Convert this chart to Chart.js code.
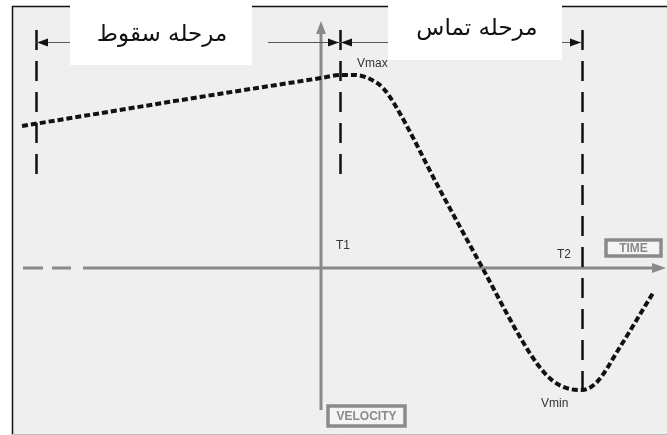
<!DOCTYPE html>
<html>
<head>
<meta charset="utf-8">
<script src="https://cdn.jsdelivr.net/npm/chart.js@4.4.0/dist/chart.umd.min.js"></script>
<style>
html,body{margin:0;padding:0;background:#fff;}
#wrap{width:667px;height:435px;position:relative;}
</style>
</head>
<body>
<div id="wrap"><canvas id="c" width="667" height="435"></canvas></div>
<script>
// ---- data (time, velocity in arbitrary units) ----
const curveTime = [-29.9, -12.1, 0, 1.9, 3.4, 4.9, 6.2, 7.4, 11.9, 16.2, 19.9, 21.7, 23.2, 24.9, 26.1, 27.6, 29.9, 33.2];
const curveVelocity = [14.2, 17.1, 19.0, 19.3, 19.3, 18.9, 18.0, 16.3, 7.8, -0.1, -6.9, -9.7, -11.3, -12.1, -12.2, -11.4, -7.9, -2.5];
const phaseBoundaries = [-28.5, 1.9, 26.1];   // start of fall, T1, T2
const phaseLabels = ['مرحله سقوط', 'مرحله تماس'];
const timeMarkerLabels = ['T1', 'T2'];
const extremaLabels = ['Vmax', 'Vmin'];
const axisTitles = ['TIME', 'VELOCITY'];

const points = curveTime.map((t, i) => ({x: t, y: curveVelocity[i]}));

function arrowHead(ctx, x, y, dir, len, half, color) {
  ctx.save();
  ctx.fillStyle = color;
  ctx.beginPath();
  if (dir === 'right') { ctx.moveTo(x, y); ctx.lineTo(x - len, y - half); ctx.lineTo(x - len, y + half); }
  else if (dir === 'left') { ctx.moveTo(x, y); ctx.lineTo(x + len, y - half); ctx.lineTo(x + len, y + half); }
  else if (dir === 'up') { ctx.moveTo(x, y); ctx.lineTo(x - half, y + len); ctx.lineTo(x + half, y + len); }
  ctx.closePath();
  ctx.fill();
  ctx.restore();
}

const diagram = {
  id: 'diagram',
  beforeDraw(chart) {
    const ctx = chart.ctx;
    ctx.save();
    ctx.fillStyle = '#ffffff';
    ctx.fillRect(0, 0, chart.width, chart.height);
    ctx.fillStyle = '#efefef';
    ctx.fillRect(12, 6, chart.width - 12, 428);
    ctx.strokeStyle = '#111';
    ctx.lineWidth = 1.5;
    ctx.beginPath();
    ctx.moveTo(12.5, 6); ctx.lineTo(12.5, 435);
    ctx.moveTo(12, 6.5); ctx.lineTo(chart.width, 6.5);
    ctx.stroke();
    ctx.strokeStyle = '#bbb';
    ctx.lineWidth = 1;
    ctx.beginPath();
    ctx.moveTo(12, 434.5); ctx.lineTo(chart.width, 434.5);
    ctx.stroke();
    ctx.restore();
  },
  beforeDatasetsDraw(chart) {
    const ctx = chart.ctx;
    const xs = chart.scales.x, ys = chart.scales.y;
    const x0 = xs.getPixelForValue(0), y0 = ys.getPixelForValue(0);
    const bx = phaseBoundaries.map(v => xs.getPixelForValue(v));
    const axisGray = '#8a8a8a';
    ctx.save();
    // time axis
    ctx.strokeStyle = axisGray;
    ctx.lineWidth = 3;
    ctx.beginPath();
    ctx.moveTo(83, y0); ctx.lineTo(654, y0);
    ctx.moveTo(23, y0); ctx.lineTo(43, y0);
    ctx.moveTo(52, y0); ctx.lineTo(71, y0);
    ctx.stroke();
    arrowHead(ctx, 666, y0, 'right', 14, 5, axisGray);
    // velocity axis
    ctx.beginPath();
    ctx.moveTo(x0, 410); ctx.lineTo(x0, 32);
    ctx.stroke();
    arrowHead(ctx, x0, 21, 'up', 13, 5, axisGray);

    // dashed vertical phase lines
    ctx.strokeStyle = '#111';
    ctx.lineWidth = 2.5;
    ctx.setLineDash([20, 11]);
    const ends = [175, 175, 400];
    bx.forEach((px, i) => {
      ctx.beginPath();
      ctx.moveTo(Math.round(px) + 0.5, 30);
      ctx.lineTo(Math.round(px) + 0.5, ends[i]);
      ctx.stroke();
    });
    ctx.setLineDash([]);

    // dimension lines
    const dy = 42.5;
    ctx.strokeStyle = '#555';
    ctx.lineWidth = 1.2;
    ctx.beginPath();
    ctx.moveTo(bx[0], dy); ctx.lineTo(70, dy);
    ctx.moveTo(268, dy); ctx.lineTo(bx[1], dy);
    ctx.moveTo(bx[1], dy); ctx.lineTo(388, dy);
    ctx.moveTo(562, dy); ctx.lineTo(bx[2], dy);
    ctx.stroke();
    arrowHead(ctx, bx[0] + 1, dy, 'left', 11, 4, '#111');
    arrowHead(ctx, bx[1] - 1, dy, 'right', 11, 4, '#111');
    arrowHead(ctx, bx[1] + 1, dy, 'left', 11, 4, '#111');
    arrowHead(ctx, bx[2] - 1, dy, 'right', 11, 4, '#111');

    // white title boxes
    ctx.fillStyle = '#ffffff';
    ctx.fillRect(70, 0, 182, 65);
    ctx.fillRect(388, 0, 174, 60);
    ctx.fillStyle = '#111';
    ctx.font = '23px "DejaVu Sans"';
    ctx.textAlign = 'center';
    ctx.textBaseline = 'middle';
    ctx.direction = 'rtl';
    ctx.fillText(phaseLabels[0], 162, 35);
    ctx.fillText(phaseLabels[1], 477, 29);
    ctx.direction = 'ltr';

    // small labels
    ctx.fillStyle = '#333';
    ctx.font = '12px "Liberation Sans"';
    ctx.textAlign = 'left';
    ctx.fillText(timeMarkerLabels[0], bx[1] - 4, 246);
    ctx.fillText(timeMarkerLabels[1], bx[2] - 25, 255);
    ctx.fillText(extremaLabels[0], bx[1] + 17, 64);
    ctx.fillText(extremaLabels[1], bx[2] - 41, 404);

    // axis title boxes
    ctx.strokeStyle = axisGray;
    ctx.lineWidth = 3.5;
    ctx.fillStyle = '#f4f4f4';
    ctx.fillRect(606, 240, 55, 16);
    ctx.strokeRect(606, 240, 55, 16);
    ctx.fillRect(328, 406, 77, 20);
    ctx.strokeRect(328, 406, 77, 20);
    ctx.fillStyle = axisGray;
    ctx.font = 'bold 12px "Liberation Sans"';
    ctx.textAlign = 'center';
    ctx.fillText(axisTitles[0], 633.5, 248.5);
    ctx.fillText(axisTitles[1], 366.5, 416.5);
    ctx.restore();
  }
};

new Chart(document.getElementById('c'), {
  type: 'line',
  data: {
    datasets: [{
      data: points,
      borderColor: '#111',
      borderWidth: 4,
      borderDash: [6, 3],
      borderCapStyle: 'butt',
      cubicInterpolationMode: 'monotone',
      pointRadius: 0,
      fill: false
    }]
  },
  options: {
    responsive: false,
    animation: false,
    devicePixelRatio: 1,
    layout: {padding: 0},
    plugins: {legend: {display: false}, tooltip: {enabled: false}},
    scales: {
      x: {type: 'linear', min: -32.1, max: 34.6, display: false},
      y: {type: 'linear', min: -16.7, max: 26.8, display: false}
    }
  },
  plugins: [diagram]
});
</script>
</body>
</html>
